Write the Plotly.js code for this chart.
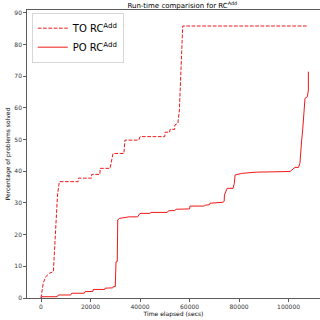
<!DOCTYPE html>
<html><head><meta charset="utf-8">
<script src="https://cdn.plot.ly/plotly-3.0.1.min.js"></script>
<style>html,body{margin:0;padding:0;background:#fff}#c{width:320px;height:320px}</style>
</head><body><div id="c"></div>
<script>
const toX = [0,900,1900,3600,5000,5250,5650,6060,6670,7400,15000,15100,20400,20500,23800,23900,27900,29100,33500,33900,39500,40000,50000,50100,52000,52100,54000,54100,55300,55900,56150,56560,57250,107900];
const toY = [0,4.7,6.7,7.9,8.3,12,21.5,27.8,32.5,36.7,36.7,37.8,37.8,39.0,39.0,40.9,40.9,45.6,45.6,49.8,49.8,50.9,50.9,52.3,52.3,53.2,53.2,54.6,55.1,59.3,64.6,75.1,85.8,85.8];
const poX = [0,400,6500,7000,12000,12400,17500,17800,21000,21100,25800,25900,29000,29200,30000,30300,30800,31000,31600,33000,35600,39000,39500,40000,44000,44400,51000,51500,54000,54600,60000,60200,66000,66300,68000,68300,73500,74000,74100,75200,77600,78100,78400,81000,87000,100600,102600,104000,104600,104900,105300,105700,106250,106650,107600,108000,108000];
const poY = [0,0.4,0.4,0.95,0.95,1.5,1.5,2.0,2.1,2.7,2.7,3.1,3.2,3.6,3.6,11.4,11.5,24.6,25.1,25.3,25.6,25.6,26.2,26.7,26.7,27.0,27.0,27.5,27.6,28.0,28.1,29.0,29.0,29.3,29.4,29.9,30.2,30.5,32.5,34.6,34.6,36.2,38.8,39.3,39.7,39.9,41.2,41.2,42.5,46.7,49.8,53,60.9,63,63.5,65.6,71.4];
const names = ["TO RC<sup>Add</sup>", "PO RC<sup>Add</sup>"];
const xTicks = [0,20000,40000,60000,80000,100000];
const yTicks = [0,10,20,30,40,50,60,70,80,90];

const data = [
  {x: toX, y: toY, name: names[0], mode: 'lines', line: {color: '#f01818', width: 1, dash: '3.7px,1.6px'}},
  {x: poX, y: poY, name: names[1], mode: 'lines', line: {color: '#f01818', width: 1}}
];
const tickFont = {family: 'DejaVu Sans', size: 6, color: '#333'};
const layout = {
  width: 320, height: 320,
  margin: {l: 27, r: 0, t: 10, b: 22, pad: 0},
  paper_bgcolor: '#fff', plot_bgcolor: '#fff',
  font: {family: 'DejaVu Sans'},
  title: {text: 'Run-time comparision for RC<sup>Add</sup>', font: {family: 'DejaVu Sans', size: 7, color: '#000'}, x: 0.53, xanchor: 'center', xref: 'paper', yref: 'paper', y: 1, yanchor: 'bottom', pad: {b: 2, t: 0, l: 0, r: 0}},
  showlegend: true,
  legend: {x: 0.017, y: 0.99, xanchor: 'left', yanchor: 'top', bgcolor: '#fff', bordercolor: '#ccc', borderwidth: 0.8, font: {family: 'DejaVu Sans', size: 10, color: '#000'}, tracegroupgap: 0, itemwidth: 30},
  xaxis: {range: [-5656, 112700], tickvals: xTicks, ticktext: xTicks.map(String), showgrid: false, zeroline: false,
    showline: true, linecolor: '#333', linewidth: 0.8, mirror: true, ticks: 'outside', ticklen: 3, tickcolor: '#333', tickwidth: 0.8, tickfont: tickFont,
    title: {text: 'Time elapsed (secs)', font: {family: 'DejaVu Sans', size: 6, color: '#000'}, standoff: 2}},
  yaxis: {range: [0, 90.85], tickvals: yTicks, ticktext: yTicks.map(String), showgrid: false, zeroline: false,
    showline: true, linecolor: '#333', linewidth: 0.8, mirror: true, ticks: 'outside', ticklen: 3, tickcolor: '#333', tickwidth: 0.8, tickfont: tickFont,
    title: {text: 'Percentage of problems solved', font: {family: 'DejaVu Sans', size: 6, color: '#000'}, standoff: 3}}
};
Plotly.newPlot('c', data, layout, {displayModeBar: false, staticPlot: true});
</script></body></html>
